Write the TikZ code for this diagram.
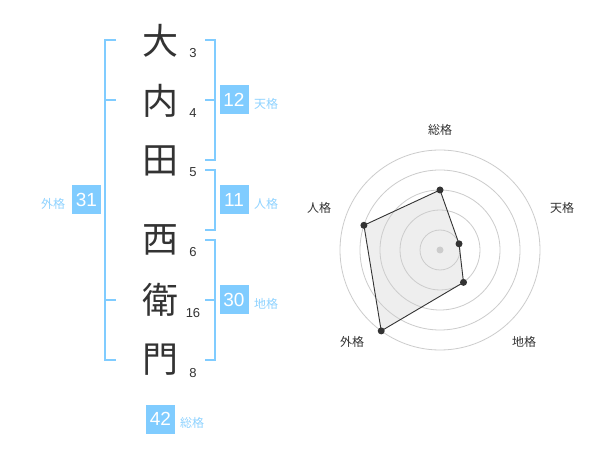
\documentclass[tikz,border=0pt]{standalone}
\usepackage{fontspec}
\setmainfont{Liberation Sans}
\newfontfamily\cjk{Noto Sans CJK JP}
\definecolor{sky}{HTML}{80CCFF}
\definecolor{skytxt}{HTML}{8FD3FF}
\definecolor{ink}{HTML}{333333}
\definecolor{gridc}{HTML}{CCCCCC}
\definecolor{polyfill}{HTML}{EEEEEE}
\begin{document}
\begin{tikzpicture}[x=1pt,y=-1pt,
  kanji/.style={font=\cjk\fontsize{36}{36}\selectfont, text=ink, inner sep=0pt},
  num/.style={font=\fontsize{13}{13}\selectfont, text=ink, inner sep=0pt},
  valbox/.style={fill=sky, text=white, font=\fontsize{19}{19}\selectfont, minimum width=29pt, minimum height=29pt, inner sep=0pt},
  lab/.style={font=\cjk\fontsize{12}{12}\selectfont, text=skytxt, inner sep=0pt},
  rlab/.style={font=\cjk\fontsize{12}{12}\selectfont, text=ink, inner sep=0pt},
  brk/.style={draw=sky, line width=2pt},
  gridring/.style={draw=gridc, line width=0.8pt},
  dot/.style={circle, fill=ink, inner sep=0pt, minimum size=7pt}
]
\useasboundingbox (0,0) rectangle (600,470);
\fill[white] (0,0) rectangle (600,470);

% kanji
\node[kanji] (k1) at (160,41) {大};
\node[kanji] (k2) at (160,101) {内};
\node[kanji] (k3) at (160,161) {田};
\node[kanji] (k4) at (160,240) {西};
\node[kanji] (k5) at (160,300) {衛};
\node[kanji] (k6) at (160,360) {門};

% stroke counts
\node[num] (n1) at (193,53) {3};
\node[num] (n2) at (193,113) {4};
\node[num] (n3) at (193,172) {5};
\node[num] (n4) at (193,252) {6};
\node[num] (n5) at (193,313) {16};
\node[num] (n6) at (193,373) {8};

% brackets
\draw[brk] (116,40) -- (105,40) -- (105,360) -- (116,360);
\draw[brk] (105,100) -- (116,100);
\draw[brk] (105,300) -- (116,300);
\draw[brk] (205,40) -- (215,40) -- (215,160) -- (205,160);
\draw[brk] (205,100) -- (215,100);
\draw[brk] (205,170) -- (215,170) -- (215,230) -- (205,230);
\draw[brk] (205,240) -- (215,240) -- (215,360) -- (205,360);
\draw[brk] (205,300) -- (215,300);

% value boxes
\node[valbox] (ten) at (234,100) {12};
\node[lab] (tenl) at (266,104) {天格};
\node[valbox] (jin) at (234,200) {11};
\node[lab] (jinl) at (266,204) {人格};
\node[valbox] (chi) at (234,300) {30};
\node[lab] (chil) at (266,304) {地格};
\node[valbox] (gai) at (86.5,200) {31};
\node[lab] (gail) at (53,204) {外格};
\node[valbox] (sou) at (160.5,419) {42};
\node[lab] (soul) at (192,423) {総格};

% radar chart
\begin{scope}[shift={(440,250)}, yscale=-1]
  \coordinate (pS) at (90:60);
  \coordinate (pT) at (18:20);
  \coordinate (pC) at (-54:40);
  \coordinate (pG) at (-126:100);
  \coordinate (pJ) at (162:80);
  \fill[polyfill] (pS) -- (pT) -- (pC) -- (pG) -- (pJ) -- cycle;
  \foreach \r in {20,40,60,80,100} \draw[gridring] (0,0) circle[radius=\r];
  \fill[gridc] (0,0) circle[radius=3.5];
  \draw[ink, line width=0.9pt] (pS) -- (pT) -- (pC) -- (pG) -- (pJ) -- cycle;
  \foreach \p in {pS,pT,pC,pG,pJ} \node[dot] at (\p) {};
\end{scope}
\node[rlab] (rS) at (440,130) {総格};
\node[rlab] (rT) at (562,208) {天格};
\node[rlab] (rJ) at (319,208) {人格};
\node[rlab] (rG) at (352,342) {外格};
\node[rlab] (rC) at (524,342) {地格};
\end{tikzpicture}
\end{document}
